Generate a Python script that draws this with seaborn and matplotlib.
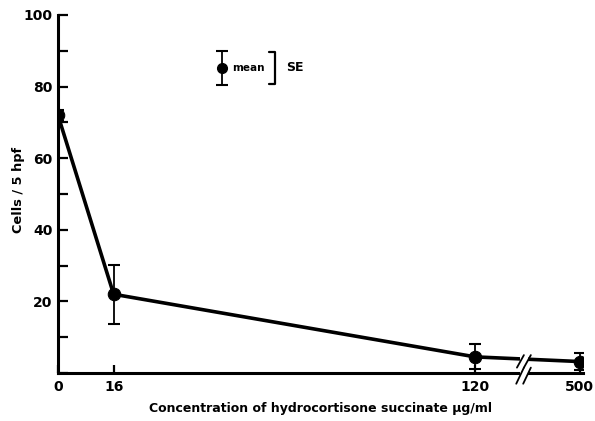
import matplotlib
matplotlib.use("Agg")
import matplotlib.pyplot as plt
import matplotlib.patches as mpatches
import numpy as np
import pandas as pd
import seaborn as sns

# ---- data ----
concentration = [0, 16, 120, 500]          # ug/ml
cells_mean = [72, 22, 4.5, 3.2]            # cells / 5 hpf
cells_se = [1.5, 8.2, 3.5, 2.4]
tick_labels = ["0", "16", "120", "500"]

BREAK_AT = 134     # axis position of the break
POS_500 = 150      # axis position used for values beyond the break


def to_pos(v):
    return v if v <= 120 else POS_500


sns.set_theme(style="white")
plt.rcParams["font.family"] = ["DejaVu Sans"]
plt.rcParams["font.weight"] = "bold"
for k in ["text.color", "axes.labelcolor", "xtick.color", "ytick.color"]:
    plt.rcParams[k] = "black"

df = pd.DataFrame({
    "conc": concentration,
    "pos": [to_pos(v) for v in concentration],
    "mean": cells_mean,
    "se": cells_se,
})

fig = plt.figure(figsize=(5.95, 4.21), dpi=100)
ax = fig.add_axes([58 / 595, 1 - 373 / 421, 525 / 595, 358 / 421])

sns.lineplot(data=df, x="pos", y="mean", ax=ax, color="black", lw=2.6,
             marker="o", markersize=9, markeredgecolor="black", zorder=4)
ax.errorbar(df["pos"], df["mean"], yerr=df["se"], fmt="none", ecolor="black",
            elinewidth=1.3, capsize=4.5, capthick=1.5, zorder=4)

ax.set_xlim(0, 151)
ax.set_ylim(0, 100)

for s in ["top", "right"]:
    ax.spines[s].set_visible(False)
for s in ["left", "bottom"]:
    ax.spines[s].set_linewidth(2.2)
    ax.spines[s].set_color("black")

ax.set_yticks([0, 20, 40, 60, 80, 100])
ax.set_yticklabels(["", "20", "40", "60", "80", "100"])
ax.set_yticks([10, 30, 50, 70, 90], minor=True)
ax.tick_params(axis="y", which="both", direction="in", length=7, width=1.6,
               labelsize=10, pad=4, left=True, colors="black")
ax.set_xticks(df["pos"])
ax.set_xticklabels(tick_labels)
ax.tick_params(axis="x", which="major", direction="in", length=6, width=1.6,
               labelsize=10, pad=5, bottom=True, colors="black")
for lab in ax.get_xticklabels() + ax.get_yticklabels():
    lab.set_fontweight("bold")

ax.set_ylabel("Cells / 5 hpf", fontsize=9.3, fontweight="bold", color="black")
ax.yaxis.set_label_coords(-0.076, 0.51)
ax.set_xlabel("Concentration of hydrocortisone succinate \u03bcg/ml",
              fontsize=9, fontweight="bold", color="black")
ax.xaxis.set_label_coords(0.5, -0.098)
ax.xaxis.label.set_va("center")
ax.yaxis.label.set_va("center")

# ---- axis break ----
gap = mpatches.Rectangle((BREAK_AT - 1.2, -3), 2.4, 12, facecolor="white",
                         edgecolor="none", zorder=5, clip_on=False)
ax.add_patch(gap)
for dx in (-1.0, 1.0):
    xc = BREAK_AT + dx
    ax.plot([xc - 1.0, xc + 1.0], [1.5, 5.0], color="black", lw=1.3,
            zorder=6, clip_on=False)
    ax.plot([xc - 1.2, xc + 1.0], [-3.0, 1.5], color="black", lw=1.3,
            zorder=6, clip_on=False)

# ---- key ----
kx, ky, ke = 47.1, 85.2, 4.7
ax.errorbar([kx], [ky], yerr=[ke], fmt="o", color="black", markersize=7,
            elinewidth=1.3, capsize=4.5, capthick=1.5)
ax.text(kx + 3.0, ky, "mean", fontsize=7.5, fontweight="bold",
        va="center", ha="left", color="black")
bx = 62.3
ax.plot([bx - 1.6, bx, bx, bx - 1.6], [ky + 4.6, ky + 4.6, ky - 4.6, ky - 4.6],
        color="black", lw=1.6)
ax.text(bx + 3.3, ky, "SE", fontsize=9, fontweight="bold", va="center",
        ha="left", color="black")

fig.savefig("out.png", dpi=100)
